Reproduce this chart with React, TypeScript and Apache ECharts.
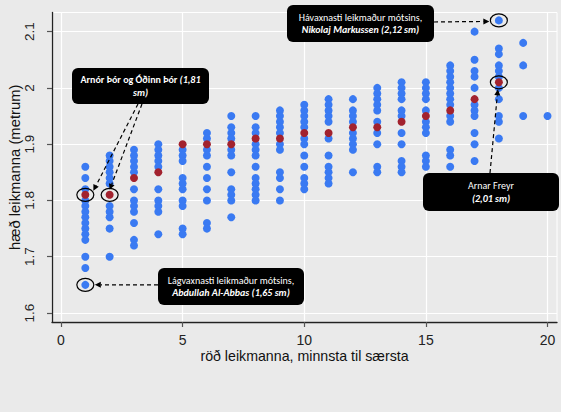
import React, { useEffect, useRef } from "react";
import * as echarts from "echarts";

// rank of each player on a team, smallest to tallest
const ranks = [1, 2, 3, 4, 5, 6, 7, 8, 9, 10, 11, 12, 13, 14, 15, 16, 17, 18, 19, 20];

// heights (m) of players from other teams at each rank
const otherHeights: number[][] = [
  [1.86, 1.84, 1.82, 1.8, 1.79, 1.78, 1.77, 1.76, 1.75, 1.74, 1.73, 1.7, 1.68, 1.65],
  [1.88, 1.87, 1.86, 1.85, 1.84, 1.83, 1.79, 1.78, 1.77, 1.75, 1.7],
  [1.89, 1.88, 1.87, 1.86, 1.85, 1.82, 1.8, 1.79, 1.78, 1.76, 1.73, 1.72],
  [1.9, 1.89, 1.88, 1.87, 1.86, 1.82, 1.8, 1.79, 1.78, 1.74],
  [1.89, 1.88, 1.87, 1.84, 1.83, 1.82, 1.8, 1.79, 1.75, 1.74],
  [1.92, 1.91, 1.89, 1.88, 1.86, 1.84, 1.82, 1.8, 1.76, 1.75],
  [1.95, 1.93, 1.92, 1.91, 1.89, 1.88, 1.85, 1.82, 1.81, 1.8, 1.77],
  [1.95, 1.93, 1.92, 1.9, 1.89, 1.88, 1.86, 1.84, 1.83, 1.82, 1.81, 1.8],
  [1.96, 1.95, 1.94, 1.93, 1.92, 1.9, 1.89, 1.85, 1.84, 1.82, 1.8],
  [1.97, 1.96, 1.95, 1.94, 1.93, 1.91, 1.9, 1.88, 1.86, 1.84, 1.83, 1.82],
  [1.98, 1.97, 1.96, 1.95, 1.94, 1.91, 1.88, 1.86, 1.85, 1.84, 1.83],
  [1.98, 1.96, 1.95, 1.94, 1.92, 1.91, 1.9, 1.89, 1.85],
  [2.0, 1.99, 1.98, 1.97, 1.96, 1.94, 1.92, 1.9, 1.86, 1.85],
  [2.01, 2.0, 1.99, 1.98, 1.96, 1.95, 1.92, 1.9, 1.87, 1.86, 1.85],
  [2.01, 2.0, 1.99, 1.98, 1.96, 1.94, 1.93, 1.92, 1.88, 1.87, 1.86],
  [2.04, 2.03, 2.02, 2.01, 2.0, 1.99, 1.98, 1.97, 1.95, 1.94, 1.89, 1.88, 1.86],
  [2.1, 2.05, 2.03, 2.02, 2.0, 1.97, 1.96, 1.95, 1.92, 1.9, 1.87],
  [2.12, 2.07, 2.06, 2.04, 2.03, 2.02, 2.0, 1.98, 1.95, 1.94, 1.91],
  [2.08, 2.04, 1.95],
  [1.95],
];

// heights (m) of the Icelandic players, by rank
const icelandHeights = [1.81, 1.81, 1.84, 1.85, 1.9, 1.9, 1.9, 1.91, 1.91, 1.92, 1.92, 1.93, 1.93, 1.94, 1.95, 1.96, 1.98, 2.01];

const xTicks = [0, 5, 10, 15, 20];
const yTicks = [1.6, 1.7, 1.8, 1.9, 2.0, 2.1];

const xTitle = "röð leikmanna, minnsta til særsta";
const yTitle = "hæð leikmanna (metrum)";

// highlighted players: [rank, height]
const pointOdinn = [1, 1.81];
const pointArnor = [2, 1.81];
const pointShortest = [1, 1.65];
const pointTallest = [18, 2.12];
const pointArnar = [18, 2.01];

const noteFont = "Carlito, Lato, sans-serif";
const axisFont = "Liberation Sans, Arial, Helvetica, sans-serif";

export default function App() {
  const ref = useRef<HTMLDivElement>(null);

  useEffect(() => {
    const chart = echarts.init(ref.current!, null, { renderer: "svg" });

    const blueData: number[][] = [];
    otherHeights.forEach((col, i) => col.forEach((v) => blueData.push([ranks[i], v])));
    const redData = icelandHeights.map((v, i) => [ranks[i], v]);

    chart.setOption({
      animation: false,
      backgroundColor: "#eaeaea",
      textStyle: { fontFamily: axisFont },
      grid: {
        left: 52,
        right: 4,
        top: 12.5,
        bottom: 90,
        containLabel: false,
        outerBoundsMode: "none",
        show: true,
        borderColor: "#ffffff",
        borderWidth: 1,
        backgroundColor: "transparent",
      },
      xAxis: {
        type: "value",
        min: -0.37,
        max: 20.39,
        name: xTitle,
        nameLocation: "middle",
        nameGap: 27,
        nameMoveOverlap: false,
        nameTextStyle: { fontSize: 14.2, color: "#111", fontFamily: axisFont },
        axisLine: { show: true, onZero: false, lineStyle: { color: "#222", width: 1.3 } },
        axisTick: { show: true, customValues: xTicks, length: 5, lineStyle: { color: "#555", width: 1.2 } },
        axisLabel: {
          customValues: xTicks,
          fontSize: 14,
          color: "#222",
          fontFamily: axisFont,
          margin: 11,
        },
        splitLine: { show: true, lineStyle: { color: "#ffffff", width: 1.2 } },
      },
      yAxis: {
        type: "value",
        min: 1.584,
        max: 2.134,
        name: yTitle,
        nameLocation: "middle",
        nameGap: 30,
        nameMoveOverlap: false,
        nameRotate: 90,
        nameTextStyle: { fontSize: 14.8, color: "#111", fontFamily: axisFont },
        axisLine: { show: true, onZero: false, lineStyle: { color: "#222", width: 1.3 } },
        axisTick: { show: true, customValues: yTicks, length: 5, lineStyle: { color: "#555", width: 1.2 } },
        axisLabel: {
          customValues: yTicks,
          rotate: 90,
          fontSize: 13.5,
          color: "#222",
          fontFamily: axisFont,
          margin: 16,
          formatter: (v: number) => String(Number(v.toFixed(1))),
        },
        splitLine: { show: true, lineStyle: { color: "#ffffff", width: 1.2 } },
      },
      series: [
        {
          type: "scatter",
          data: blueData,
          symbol: "circle",
          symbolSize: 8,
          itemStyle: { color: "#3a7af2", opacity: 1 },
          z: 2,
        },
        {
          type: "scatter",
          data: redData,
          symbol: "circle",
          symbolSize: 8,
          itemStyle: { color: "#a2222e", opacity: 1 },
          z: 3,
        },
      ],
    });

    const px = (p: number[]) => chart.convertToPixel({ gridIndex: 0 }, p) as number[];

    const arrow = (x1: number, y1: number, x2: number, y2: number) => {
      const dx = x2 - x1;
      const dy = y2 - y1;
      const len = Math.hypot(dx, dy);
      const ux = dx / len;
      const uy = dy / len;
      const hl = 6;
      const hw = 3;
      const bx = x2 - ux * hl;
      const by = y2 - uy * hl;
      return [
        {
          type: "line",
          z: 100,
          shape: { x1, y1, x2: bx, y2: by },
          style: { stroke: "#000", lineWidth: 1.2, lineDash: [4, 3] },
        },
        {
          type: "polygon",
          z: 100,
          shape: { points: [[x2, y2], [bx - uy * hw, by + ux * hw], [bx + uy * hw, by - ux * hw]] },
          style: { fill: "#000" },
        },
      ];
    };

    const ring = (p: number[]) => ({
      type: "ellipse",
      z: 100,
      shape: { cx: p[0], cy: p[1], rx: 8.5, ry: 6.5 },
      style: { fill: "none", stroke: "#000", lineWidth: 1.2 },
    });

    const rich = {
      n: { fill: "#fff", fontSize: 10, fontFamily: noteFont, lineHeight: 12.5 },
      b: { fill: "#fff", fontSize: 10, fontFamily: noteFont, fontWeight: "bold", lineHeight: 12.5 },
      bi: { fill: "#fff", fontSize: 10, fontFamily: noteFont, fontWeight: "bold", fontStyle: "italic", lineHeight: 12.5 },
      i: { fill: "#fff", fontSize: 10, fontFamily: noteFont, fontStyle: "italic", lineHeight: 12.5 },
    };

    const box = (x: number, y: number, w: number, h: number, text: string) => [
      { type: "rect", z: 100, shape: { x, y, width: w, height: h, r: 6 }, style: { fill: "#000" } },
      {
        type: "text",
        z: 101,
        x: x + w / 2,
        y: y + h / 2,
        style: { text, rich, fill: "#fff", align: "center", verticalAlign: "middle", fontSize: 10, fontFamily: noteFont },
      },
    ];

    const pO = px(pointOdinn);
    const pA = px(pointArnor);
    const pS = px(pointShortest);
    const pT = px(pointTallest);
    const pF = px(pointArnar);

    const elements: any[] = [
      ring(pO),
      ring(pA),
      ring(pS),
      ring(pT),
      ring(pF),
      ...arrow(138, 104, pO[0] + 8, pO[1] - 4),
      ...arrow(142, 104, pA[0], pA[1] - 5),
      ...arrow(158, pS[1], pS[0] + 9.5, pS[1]),
      ...arrow(434, 22, pT[0] - 9.5, pT[1] + 1),
      ...arrow(490, 173, pF[0] - 1, pF[1] + 7),
      ...box(72, 68, 137, 36, "{b|Arnór Þór og Óðinn Þór }{bi|(1,81}\n{bi|sm)}"),
      ...box(287, 5, 147, 37, "{n|Hávaxnasti leikmaður mótsins,}\n{bi|Nikolaj Markussen (2,12 sm)}"),
      ...box(423, 173, 136, 38, "{n|Arnar Freyr}\n{bi|(2,01 sm)}"),
      ...box(158, 268, 146, 37, "{n|Lágvaxnasti leikmaður mótsins,}\n{bi|Abdullah Al-Abbas (1,65 sm)}"),
    ];

    chart.setOption({ graphic: elements });

    return () => chart.dispose();
  }, []);

  return <div ref={ref} style={{ position: "absolute", left: 0, top: 0, width: 561, height: 412 }} />;
}
